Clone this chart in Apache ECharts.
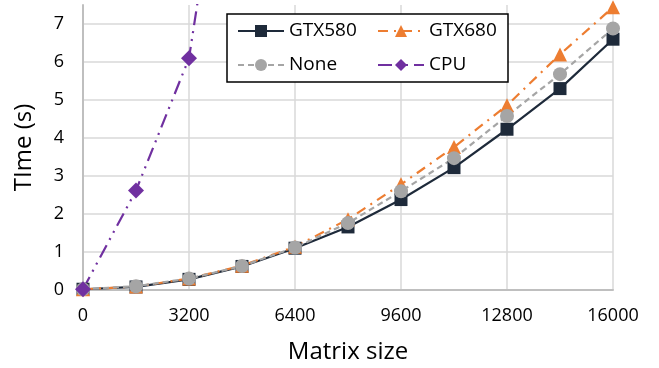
<!DOCTYPE html>
<html><head><meta charset="utf-8">
<script src="https://cdn.jsdelivr.net/npm/echarts@6/dist/echarts.min.js"></script>
<style>html,body{margin:0;padding:0;background:#fff}#c{width:659px;height:368px}</style>
</head><body><div id="c"></div>
<script>
const xValues = [0, 1600, 3200, 4800, 6400, 8000, 9600, 11200, 12800, 14400, 16000];
const gtx580 = [0.02, 0.08, 0.28, 0.62, 1.1, 1.66, 2.38, 3.22, 4.23, 5.3, 6.6];
const gtx680 = [0.02, 0.09, 0.3, 0.64, 1.14, 1.86, 2.78, 3.76, 4.86, 6.2, 7.44];
const none   = [0.02, 0.1, 0.3, 0.63, 1.12, 1.76, 2.6, 3.47, 4.58, 5.68, 6.88];
const cpuX = [0, 1600, 3200, 4800];
const cpu  = [0.02, 2.62, 6.1, 15.2];
const seriesNames = ['GTX580', 'GTX680', 'None', 'CPU'];

const pairs = (xs, ys) => xs.map((x, i) => [x, ys[i]]);
const font = 'Open Sans';
const chart = echarts.init(document.getElementById('c'));
chart.setOption({
  animation: false,
  backgroundColor: '#fff',
  textStyle: { fontFamily: font },
  grid: { left: 83, right: 46, top: 5, bottom: 78, containLabel: false, outerBoundsMode: 'none' },
  legend: {
    data: seriesNames,
    left: 227, top: 14, width: 270,
    orient: 'horizontal',
    padding: [6, 3, 6, 10],
    itemGap: 12,
    itemWidth: 46, itemHeight: 15,
    backgroundColor: '#fff',
    borderColor: '#000', borderWidth: 1.5, borderRadius: 0,
    textStyle: { fontFamily: font, fontSize: 19, color: '#000', width: 76, lineHeight: 22 }
  },
  xAxis: {
    type: 'value', min: 0, max: 16000, interval: 3200,
    name: 'Matrix size', nameLocation: 'middle', nameGap: 50,
    nameTextStyle: { fontFamily: font, fontSize: 24, color: '#000' },
    axisLine: { show: true, lineStyle: { color: '#bfbfbf', width: 2 } },
    axisTick: { show: false },
    axisLabel: { fontFamily: font, fontSize: 18, color: '#000', margin: 17, formatter: v => String(v) },
    splitLine: { show: true, lineStyle: { color: '#d9d9d9', width: 1.5 } }
  },
  yAxis: {
    type: 'value', min: 0, max: 7.5, interval: 1,
    name: 'TIme (s)', nameLocation: 'middle', nameGap: 47,
    nameTextStyle: { fontFamily: font, fontSize: 24, color: '#000' },
    axisLine: { show: true, lineStyle: { color: '#bfbfbf', width: 2 } },
    axisTick: { show: false },
    axisLabel: { fontFamily: font, fontSize: 18, color: '#000', margin: 19, showMaxLabel: false },
    splitLine: { show: true, showMaxLine: false, lineStyle: { color: '#d9d9d9', width: 1.5 } }
  },
  series: [
    { name: 'GTX580', type: 'line', data: pairs(xValues, gtx580),
      symbol: 'rect', symbolSize: 13, color: '#1e2a3a',
      lineStyle: { width: 2.2, color: '#1e2a3a' }, itemStyle: { color: '#1e2a3a' } },
    { name: 'GTX680', type: 'line', data: pairs(xValues, gtx680),
      symbol: 'triangle', symbolSize: 14, color: '#ed7d31',
      lineStyle: { width: 2.2, color: '#ed7d31', type: [10, 6, 2, 6] }, itemStyle: { color: '#ed7d31' } },
    { name: 'None', type: 'line', data: pairs(xValues, none),
      symbol: 'circle', symbolSize: 14, color: '#a5a5a5',
      lineStyle: { width: 2.2, color: '#a5a5a5', type: [6, 4] }, itemStyle: { color: '#a5a5a5' } },
    { name: 'CPU', type: 'line', data: pairs(cpuX, cpu),
      symbol: 'diamond', symbolSize: 16, color: '#7030a0',
      lineStyle: { width: 2.2, color: '#7030a0', type: [14, 6, 2, 6, 2, 6] }, itemStyle: { color: '#7030a0' } }
  ]
});
</script></body></html>
